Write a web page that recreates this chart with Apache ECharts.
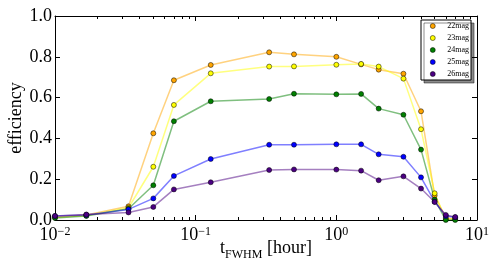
<!DOCTYPE html>
<html>
<head>
<meta charset="utf-8">
<script src="https://cdn.jsdelivr.net/npm/echarts@6/dist/echarts.min.js"></script>
<style>
html,body{margin:0;padding:0;background:#fff;}
#c{width:498px;height:275px;}
</style>
</head>
<body>
<div id="c"></div>
<script>
// ---- data ----
var tFWHM = [0.01, 0.0167, 0.0333, 0.05, 0.07, 0.128, 0.333, 0.5, 1, 1.5, 2, 3, 4, 5, 6, 7];
var mag22 = [0.015, 0.025, 0.067, 0.425, 0.685, 0.760, 0.822, 0.812, 0.800, 0.763, 0.737, 0.717, 0.533, 0.120, 0.010, 0.005];
var mag23 = [0.012, 0.022, 0.060, 0.261, 0.564, 0.719, 0.752, 0.753, 0.761, 0.765, 0.752, 0.693, 0.445, 0.131, 0.005, 0.005];
var mag24 = [0.010, 0.020, 0.055, 0.170, 0.484, 0.582, 0.593, 0.619, 0.616, 0.618, 0.546, 0.516, 0.345, 0.100, 0.000, 0.000];
var mag25 = [0.020, 0.025, 0.052, 0.106, 0.216, 0.299, 0.369, 0.369, 0.371, 0.371, 0.322, 0.310, 0.209, 0.090, 0.020, 0.013];
var mag26 = [0.020, 0.027, 0.037, 0.064, 0.150, 0.185, 0.245, 0.248, 0.247, 0.242, 0.195, 0.214, 0.154, 0.088, 0.025, 0.015];
var seriesNames = ['22mag', '23mag', '24mag', '25mag', '26mag'];
var seriesValues = [mag22, mag23, mag24, mag25, mag26];
var xMajorTicks = [0.01, 0.1, 1, 10];
var xMinorTicks = [0.02,0.03,0.04,0.05,0.06,0.07,0.08,0.09,0.2,0.3,0.4,0.5,0.6,0.7,0.8,0.9,2,3,4,5,6,7,8,9];

// ---- styles ----
var markerColors = ['#FFA500', '#FFFF00', '#008000', '#0000FF', '#4B0082'];
var lineColors = ['rgba(255,165,0,0.5)', 'rgba(255,255,0,0.5)', 'rgba(0,128,0,0.5)', 'rgba(0,0,255,0.5)', 'rgba(75,0,130,0.5)'];
var FONT = 'Liberation Serif';

function pairs(xs, ys) { return xs.map(function (x, i) { return [x, ys[i]]; }); }

var series = seriesNames.map(function (name, i) {
  return {
    name: name,
    type: 'line',
    xAxisIndex: 0,
    yAxisIndex: 0,
    data: pairs(tFWHM, seriesValues[i]),
    symbol: 'circle',
    symbolSize: 5,
    showSymbol: true,
    clip: true,
    lineStyle: { color: lineColors[i], width: 1.5 },
    itemStyle: { color: markerColors[i], borderColor: '#000', borderWidth: 0.5 },
    emphasis: { disabled: true },
    animation: false
  };
});

function expLabel(v) {
  var e = Math.round(Math.log10(v));
  return '{b|10}{s|' + (e < 0 ? '\u2212' + (-e) : e) + '}';
}

var axisLineStyle = { color: '#000', width: 1 };
var baseLog = { type: 'log', logBase: 10, min: 0.01, max: 10, gridIndex: 0, splitLine: { show: false } };

var option = {
  animation: false,
  backgroundColor: '#fff',
  grid: { left: 55, right: 21, top: 16, bottom: 55, containLabel: false, outerBoundsMode: 'none' },
  legend: {
    orient: 'vertical',
    left: 421,
    top: 20,
    padding: [2, 2, 2, 9],
    itemGap: 4,
    itemWidth: 5,
    itemHeight: 5,
    icon: 'circle',
    itemStyle: { borderColor: '#000', borderWidth: 0.5 },
    backgroundColor: '#fff',
    borderColor: '#000',
    borderWidth: 1,
    borderRadius: 0,
    shadowColor: 'rgba(0,0,0,0.45)',
    shadowOffsetX: 3,
    shadowOffsetY: 3,
    shadowBlur: 0,
    textStyle: { fontFamily: FONT, fontSize: 8, lineHeight: 8, color: '#000', padding: [0, 0, 0, 7] },
    data: seriesNames
  },
  xAxis: [
    Object.assign({}, baseLog, {
      position: 'bottom',
      axisLine: { show: true, lineStyle: axisLineStyle },
      axisTick: { show: true, inside: true, length: 5, lineStyle: { color: '#000' }, customValues: xMajorTicks },
      axisLabel: {
        show: true, margin: 6, customValues: xMajorTicks,
        formatter: expLabel,
        rich: {
          b: { fontFamily: FONT, fontSize: 18, lineHeight: 18, color: '#000', verticalAlign: 'top' },
          s: { fontFamily: FONT, fontSize: 12, lineHeight: 12, color: '#000', verticalAlign: 'top' }
        }
      },
      name: '{t|t}{sub|FWHM}{t| [hour]}',
      nameLocation: 'middle',
      nameGap: 19,
      nameMoveOverlap: false,
      nameTextStyle: {
        rich: {
          t: { fontFamily: FONT, fontSize: 18, lineHeight: 18, color: '#000', verticalAlign: 'top' },
          sub: { fontFamily: FONT, fontSize: 12, lineHeight: 12, color: '#000', verticalAlign: 'top', padding: [10, 0, 0, 0] }
        }
      }
    }),
    Object.assign({}, baseLog, {
      position: 'bottom',
      axisLine: { show: false },
      axisTick: { show: true, inside: true, length: 3, lineStyle: { color: '#000' }, customValues: xMinorTicks },
      axisLabel: { show: false }
    }),
    Object.assign({}, baseLog, {
      position: 'top',
      axisLine: { show: true, lineStyle: axisLineStyle },
      axisTick: { show: true, inside: true, length: 5, lineStyle: { color: '#000' }, customValues: xMajorTicks },
      axisLabel: { show: false }
    }),
    Object.assign({}, baseLog, {
      position: 'top',
      axisLine: { show: false },
      axisTick: { show: true, inside: true, length: 3, lineStyle: { color: '#000' }, customValues: xMinorTicks },
      axisLabel: { show: false }
    })
  ],
  yAxis: [
    {
      type: 'value', min: 0, max: 1, interval: 0.2, position: 'left',
      splitLine: { show: false },
      axisLine: { show: true, lineStyle: axisLineStyle },
      axisTick: { show: true, inside: true, length: 5, lineStyle: { color: '#000' } },
      axisLabel: { margin: 3, fontFamily: FONT, fontSize: 18, color: '#000', formatter: function (v) { return v.toFixed(1); } },
      name: 'efficiency',
      nameLocation: 'middle',
      nameGap: 30,
      nameMoveOverlap: false,
      nameTextStyle: { fontFamily: FONT, fontSize: 18, color: '#000' }
    },
    {
      type: 'value', min: 0, max: 1, interval: 0.2, position: 'right',
      splitLine: { show: false },
      axisLine: { show: true, lineStyle: axisLineStyle },
      axisTick: { show: true, inside: true, length: 5, lineStyle: { color: '#000' } },
      axisLabel: { show: false }
    }
  ],
  series: series
};

var chart = echarts.init(document.getElementById('c'), null, { renderer: 'canvas' });
chart.setOption(option);
</script>
</body>
</html>
